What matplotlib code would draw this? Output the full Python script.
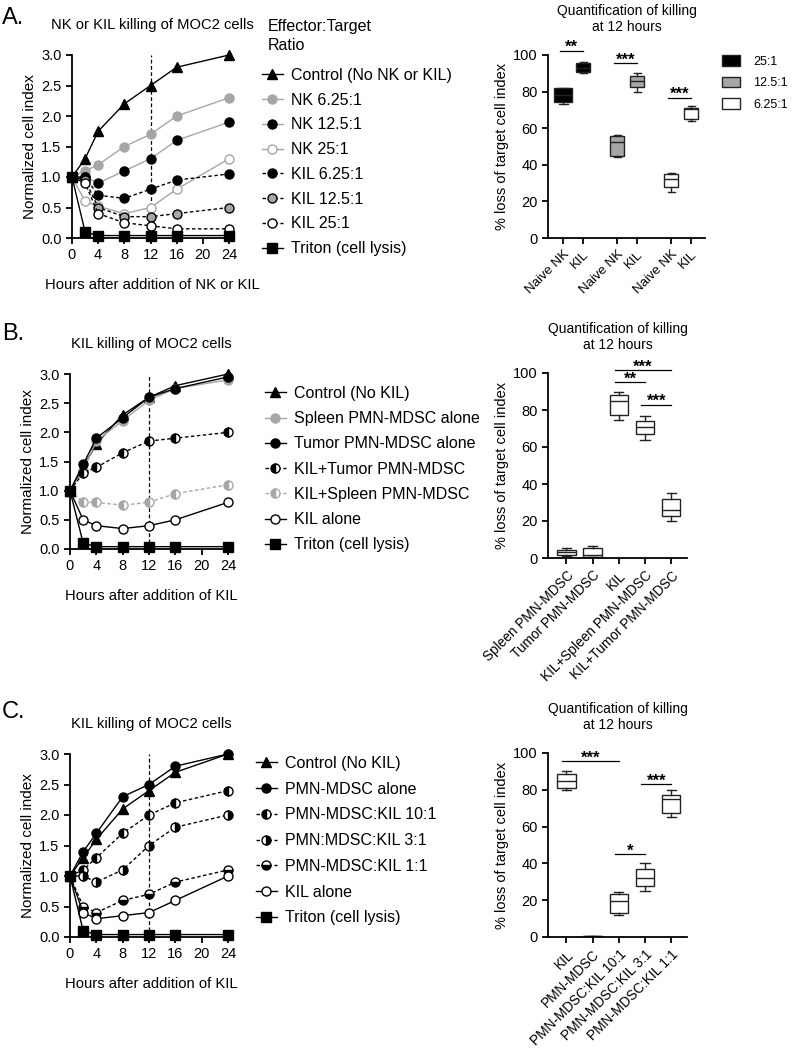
import matplotlib
matplotlib.use('Agg')
import matplotlib.pyplot as plt
from matplotlib.patches import Patch

plt.rcParams['font.family'] = ['Liberation Sans', 'DejaVu Sans']
plt.rcParams['axes.linewidth'] = 1.3
plt.rcParams['xtick.major.width'] = 1.3
plt.rcParams['ytick.major.width'] = 1.3
plt.rcParams['xtick.major.size'] = 4
plt.rcParams['ytick.major.size'] = 4
plt.rcParams['xtick.labelsize'] = 10.5
plt.rcParams['ytick.labelsize'] = 10.5

GREY = '#a6a6a6'

# ---------- data ----------
hours = [0, 2, 4, 8, 12, 16, 24]

# Panel A: NK or KIL killing
a_control = [1.0, 1.3, 1.75, 2.2, 2.5, 2.8, 3.0]
a_nk_625 = [1.0, 1.1, 1.2, 1.5, 1.7, 2.0, 2.3]
a_nk_125 = [1.0, 1.0, 0.9, 1.1, 1.3, 1.6, 1.9]
a_nk_25 = [1.0, 0.6, 0.52, 0.4, 0.5, 0.8, 1.3]
a_kil_625 = [1.0, 1.0, 0.7, 0.65, 0.8, 0.95, 1.05]
a_kil_125 = [1.0, 0.95, 0.5, 0.35, 0.35, 0.4, 0.5]
a_kil_25 = [1.0, 0.9, 0.4, 0.25, 0.2, 0.15, 0.15]
a_triton = [1.0, 0.1, 0.04, 0.04, 0.04, 0.04, 0.04]

# Panel B: KIL + PMN-MDSC
b_control = [1.0, 1.4, 1.8, 2.3, 2.6, 2.8, 3.0]
b_spleen = [1.0, 1.35, 1.85, 2.2, 2.55, 2.75, 2.9]
b_tumor = [1.0, 1.45, 1.9, 2.25, 2.6, 2.75, 2.95]
b_kil_tumor = [1.0, 1.3, 1.4, 1.65, 1.85, 1.9, 2.0]
b_kil_spleen = [1.0, 0.8, 0.8, 0.75, 0.8, 0.95, 1.1]
b_kil = [1.0, 0.5, 0.4, 0.35, 0.4, 0.5, 0.8]
b_triton = [1.0, 0.1, 0.04, 0.04, 0.04, 0.04, 0.04]

# Panel C: PMN-MDSC:KIL ratios
c_control = [1.0, 1.3, 1.6, 2.1, 2.4, 2.7, 3.0]
c_pmn = [1.0, 1.4, 1.7, 2.3, 2.5, 2.8, 3.0]
c_10 = [1.0, 1.1, 1.3, 1.7, 2.0, 2.2, 2.4]
c_3 = [1.0, 1.0, 0.9, 1.1, 1.5, 1.8, 2.0]
c_1 = [1.0, 0.5, 0.4, 0.6, 0.7, 0.9, 1.1]
c_kil = [1.0, 0.4, 0.3, 0.35, 0.4, 0.6, 1.0]
c_triton = [1.0, 0.1, 0.04, 0.04, 0.04, 0.04, 0.04]

# box plots: (whislo, q1, med, q3, whishi)
a_box_labels = ['Naive NK', 'KIL', 'Naive NK', 'KIL', 'Naive NK', 'KIL']
a_box_pos = [0, 1, 2.7, 3.7, 5.4, 6.4]
a_box_vals = [(73.3, 74.5, 78, 81.8, 81.8),
              (90.4, 90.9, 93, 95.5, 96.4),
              (44.2, 44.9, 52.2, 55.5, 56.4),
              (80.0, 82.7, 86.0, 88.5, 90.4),
              (24.9, 27.6, 32.2, 34.9, 35.5),
              (64.2, 65.1, 70.5, 71.3, 72.2)]
a_box_colors = ['black', 'black', GREY, GREY, 'white', 'white']
a_sig = [(0, 1, 102.4, '**'), (2.7, 3.7, 95.5, '***'), (5.4, 6.4, 76.7, '***')]

b_box_labels = ['Spleen PMN-MDSC', 'Tumor PMN-MDSC', 'KIL',
                'KIL+Spleen PMN-MDSC', 'KIL+Tumor PMN-MDSC']
b_box_vals = [(0.9, 1.8, 3.1, 4.5, 5.2),
              (0.4, 0.7, 1.8, 5.4, 6.3),
              (74.8, 77.3, 85.0, 87.9, 89.7),
              (64.0, 67.0, 70.8, 74.2, 76.8),
              (20.2, 22.9, 26.1, 32.1, 35.1)]
b_sig = [(2, 4, 101.8, '***'), (2, 3, 95.0, '**'), (3, 4, 82.9, '***')]

c_box_labels = ['KIL', 'PMN-MDSC', 'PMN-MDSC:KIL 10:1',
                'PMN-MDSC:KIL 3:1', 'PMN-MDSC:KIL 1:1']
c_box_vals = [(80.0, 81.0, 85.0, 88.4, 90.0),
              (0.2, 0.3, 0.4, 0.6, 0.7),
              (11.8, 13.3, 19.6, 23.1, 24.5),
              (24.9, 27.6, 32.0, 36.7, 40.0),
              (65.0, 67.6, 74.9, 77.3, 80.0)]
c_sig = [(0, 2, 95.5, '***'), (2, 3, 45.1, '*'), (3, 4, 83.3, '***')]

# ---------- figure ----------
W, H = 794, 1050
fig = plt.figure(figsize=(W / 100, H / 100), dpi=100)


def add_ax(x0, y0, x1, y1):
    return fig.add_axes([x0 / W, 1 - y1 / H, (x1 - x0) / W, (y1 - y0) / H])


def solid(color, mfc, mec=None, marker='o'):
    return dict(color=color, ls='-', marker=marker, mfc=mfc, mec=mec or color)


def dashed(color, mfc, mec='k', marker='o', fill='full', alt='white'):
    return dict(color=color, ls=(0, (2.5, 1.8)), marker=marker, mfc=mfc, mec=mec,
                fillstyle=fill, markerfacecoloralt=alt)


def line_panel(ax, series, title, xlabel, legend_xy, spacing=0.64):
    for vals, label, st in series:
        ms = 7.5 if st['marker'] == '^' else 6.5
        ax.plot(hours, vals, label=label, lw=1.0, ms=ms, mew=1.0, clip_on=False, **st)
    ax.axvline(12, color='k', lw=0.9, ls=(0, (3, 2)), zorder=0)
    ax.set_xlim(0, 24.6)
    ax.set_ylim(0, 3)
    ax.set_xticks([0, 4, 8, 12, 16, 20, 24])
    ax.set_yticks([0, 0.5, 1.0, 1.5, 2.0, 2.5, 3.0])
    ax.set_yticklabels(['0.0', '0.5', '1.0', '1.5', '2.0', '2.5', '3.0'])
    ax.spines['top'].set_visible(False)
    ax.spines['right'].set_visible(False)
    ax.set_title(title, fontsize=10.6, pad=19)
    ax.set_xlabel(xlabel, fontsize=10.6, labelpad=11)
    ax.set_ylabel('Normalized cell index', fontsize=11, labelpad=3)
    ax.legend(loc='upper left', bbox_to_anchor=(legend_xy[0] / W, 1 - legend_xy[1] / H),
              bbox_transform=fig.transFigure, frameon=False, fontsize=11.5,
              handlelength=1.3, handletextpad=0.5, labelspacing=spacing,
              borderpad=0, borderaxespad=0)


def box_panel(ax, labels, pos, vals, colors, widths, sig, xlim, tick_fs=9.8):
    stats = []
    for lab, (lo, q1, med, q3, hi) in zip(labels, vals):
        stats.append(dict(label=lab, whislo=lo, q1=q1, med=med, q3=q3, whishi=hi))
    bp = ax.bxp(stats, positions=pos, widths=widths, patch_artist=True,
                showfliers=False, capwidths=[w * 0.5 for w in widths],
                boxprops=dict(edgecolor='#222222', lw=1.0),
                medianprops=dict(color='#222222', lw=1.0),
                whiskerprops=dict(color='#222222', lw=1.0),
                capprops=dict(color='#222222', lw=1.0))
    for patch, col in zip(bp['boxes'], colors):
        patch.set_facecolor(col)
    for x0, x1, y, txt in sig:
        ax.plot([x0 - 0.15, x1], [y, y], color='k', lw=0.9, clip_on=False)
        ax.text((x0 - 0.15 + x1) / 2, y - 2.5, txt, ha='center', va='bottom',
                fontsize=12, fontweight='bold')
    ax.set_xlim(*xlim)
    ax.set_ylim(0, 100)
    ax.set_yticks([0, 20, 40, 60, 80, 100])
    ax.set_xticks(pos)
    ax.set_xticklabels(labels, rotation=45, ha='right', va='top',
                       rotation_mode='anchor', fontsize=tick_fs)
    ax.spines['top'].set_visible(False)
    ax.spines['right'].set_visible(False)
    ax.set_title('Quantification of killing\nat 12 hours', fontsize=10, pad=17)
    ax.set_ylabel('% loss of target cell index', fontsize=10.5, labelpad=3)


# Panel A
axA = add_ax(72, 55, 233, 238)
line_panel(axA, [
    (a_control, 'Control (No NK or KIL)', solid('k', 'k', marker='^')),
    (a_nk_625, 'NK 6.25:1', solid(GREY, GREY)),
    (a_nk_125, 'NK 12.5:1', solid(GREY, 'k', 'k')),
    (a_nk_25, 'NK 25:1', solid(GREY, 'white', GREY)),
    (a_kil_625, 'KIL 6.25:1', dashed('k', 'k')),
    (a_kil_125, 'KIL 12.5:1', dashed('k', GREY)),
    (a_kil_25, 'KIL 25:1', dashed('k', 'white')),
    (a_triton, 'Triton (cell lysis)', solid('k', 'k', marker='s')),
], 'NK or KIL killing of MOC2 cells', 'Hours after addition of NK or KIL',
    (262, 68), spacing=0.61)
fig.text(268 / W, 1 - 36 / H, 'Effector:Target\nRatio', fontsize=11.5,
         ha='left', va='center', linespacing=1.35)

axAb = add_ax(548, 55, 705, 238)
box_panel(axAb, a_box_labels, a_box_pos, a_box_vals, a_box_colors,
          [0.9, 0.7, 0.7, 0.7, 0.7, 0.7], a_sig, (-0.75, 7.1), tick_fs=9.5)
axAb.legend(handles=[Patch(facecolor='black', edgecolor='#222222', label='25:1'),
                     Patch(facecolor=GREY, edgecolor='#222222', label='12.5:1'),
                     Patch(facecolor='white', edgecolor='#222222', label='6.25:1')],
            loc='upper left', bbox_to_anchor=(722 / W, 1 - 55 / H),
            bbox_transform=fig.transFigure, frameon=False, fontsize=9,
            handlelength=1.45, handleheight=0.95, handletextpad=1.05,
            labelspacing=0.72, borderpad=0, borderaxespad=0)

# Panel B
axB = add_ax(70, 374, 232, 549)
line_panel(axB, [
    (b_control, 'Control (No KIL)', solid('k', 'k', marker='^')),
    (b_spleen, 'Spleen PMN-MDSC alone', solid(GREY, GREY)),
    (b_tumor, 'Tumor PMN-MDSC alone', solid('k', 'k')),
    (b_kil_tumor, 'KIL+Tumor PMN-MDSC', dashed('k', 'k', fill='left')),
    (b_kil_spleen, 'KIL+Spleen PMN-MDSC', dashed(GREY, GREY, GREY, fill='left')),
    (b_kil, 'KIL alone', solid('k', 'white', 'k')),
    (b_triton, 'Triton (cell lysis)', solid('k', 'k', marker='s')),
], 'KIL killing of MOC2 cells', 'Hours after addition of KIL', (265, 386), spacing=0.64)

axBb = add_ax(548, 373, 687, 558)
box_panel(axBb, b_box_labels, [0, 1, 2, 3, 4], b_box_vals, ['white'] * 5,
          [0.7] * 5, b_sig, (-0.7, 4.6))

# Panel C
axC = add_ax(70, 754, 232, 937)
line_panel(axC, [
    (c_control, 'Control (No KIL)', solid('k', 'k', marker='^')),
    (c_pmn, 'PMN-MDSC alone', solid('k', 'k')),
    (c_10, 'PMN-MDSC:KIL 10:1', dashed('k', 'k', fill='left')),
    (c_3, 'PMN:MDSC:KIL 3:1', dashed('k', 'k', fill='right')),
    (c_1, 'PMN-MDSC:KIL 1:1', dashed('k', 'k', fill='bottom')),
    (c_kil, 'KIL alone', solid('k', 'white', 'k')),
    (c_triton, 'Triton (cell lysis)', solid('k', 'k', marker='s')),
], 'KIL killing of MOC2 cells', 'Hours after addition of KIL', (256, 756), spacing=0.67)

axCb = add_ax(548, 753, 687, 937)
box_panel(axCb, c_box_labels, [0, 1, 2, 3, 4], c_box_vals, ['white'] * 5,
          [0.7] * 5, c_sig, (-0.7, 4.6))

# panel letters
for letter, y in [('A.', 18), ('B.', 334), ('C.', 712)]:
    fig.text(2 / W, 1 - y / H, letter, fontsize=17, va='center', ha='left')

fig.savefig('out.png', dpi=100)
